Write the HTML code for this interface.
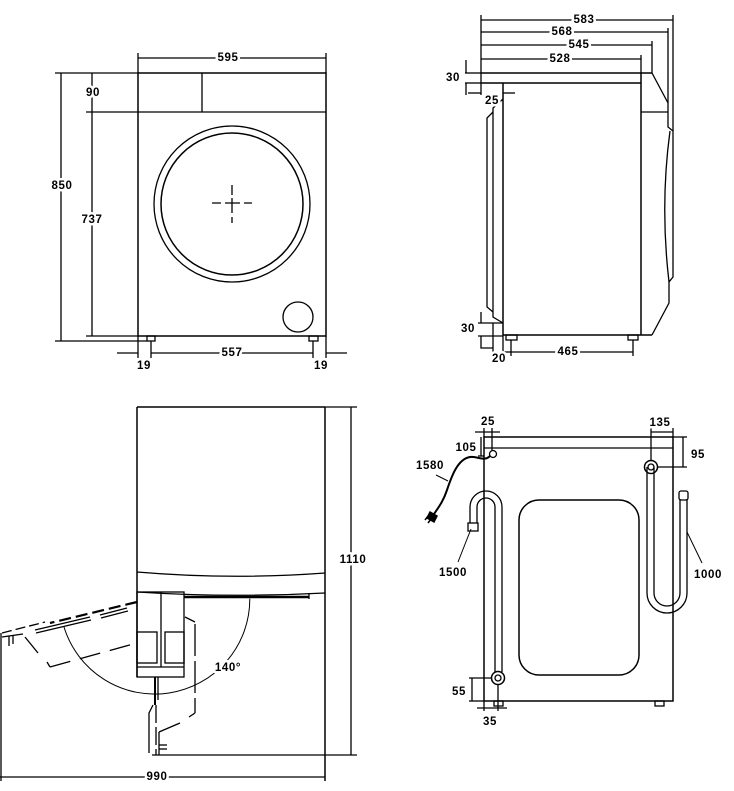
<!DOCTYPE html>
<html><head><meta charset="utf-8"><style>
html,body{margin:0;padding:0;background:#fff;}
svg{display:block;}
text{font-family:"Liberation Sans",sans-serif;font-weight:bold;font-size:11.5px;letter-spacing:0.6px;fill:#000;stroke:#fff;stroke-width:5px;paint-order:stroke;stroke-linejoin:round;}
</style></head><body>
<svg width="734" height="791" viewBox="0 0 734 791" xmlns="http://www.w3.org/2000/svg">
<g stroke="#000" stroke-width="1.3" fill="none">
<!-- FRONT VIEW -->
<line x1="138" y1="58" x2="326" y2="58"/>
<line x1="138" y1="53" x2="138" y2="73"/>
<line x1="326" y1="53" x2="326" y2="73"/>
<rect x="138" y="73" width="188" height="263" stroke-width="1.5"/>
<line x1="138" y1="112" x2="326" y2="112"/>
<line x1="202" y1="73" x2="202" y2="112"/>
<circle cx="232" cy="204" r="78"/>
<circle cx="232" cy="204" r="71" stroke-width="1.5"/>
<path d="M212,203h9 M225,203h15 M244,203h8 M232,185v10 M232,198v15 M232,217v6"/>
<circle cx="298" cy="317" r="15"/>
<rect x="147" y="336" width="8" height="5"/>
<rect x="309" y="336" width="9" height="5"/>
<line x1="61" y1="73" x2="61" y2="341"/>
<line x1="55" y1="73" x2="138" y2="73"/>
<line x1="55" y1="341" x2="147" y2="341"/>
<line x1="92" y1="73" x2="92" y2="336"/>
<line x1="86" y1="112" x2="138" y2="112"/>
<line x1="86" y1="336" x2="138" y2="336"/>
<line x1="138" y1="336" x2="138" y2="358"/>
<line x1="151" y1="341" x2="151" y2="358"/>
<line x1="313" y1="341" x2="313" y2="358"/>
<line x1="326" y1="336" x2="326" y2="358"/>
<line x1="117" y1="353" x2="138" y2="353"/>
<line x1="151" y1="353" x2="313" y2="353"/>
<line x1="326" y1="353" x2="347" y2="353"/>

<!-- SIDE VIEW -->
<line x1="481" y1="20" x2="673" y2="20"/>
<line x1="481" y1="32" x2="668" y2="32"/>
<line x1="481" y1="45" x2="652" y2="45"/>
<line x1="481" y1="59" x2="641" y2="59"/>
<line x1="481" y1="15" x2="481" y2="83"/>
<line x1="673" y1="15" x2="673" y2="131"/>
<line x1="668" y1="28" x2="668" y2="103"/>
<line x1="652" y1="41" x2="652" y2="73"/>
<line x1="641" y1="55" x2="641" y2="73"/>
<line x1="481" y1="73" x2="652" y2="73" stroke-width="1.5"/>
<line x1="481" y1="83" x2="641" y2="83" stroke-width="1.5"/>
<line x1="503" y1="83" x2="503" y2="335" stroke-width="1.5"/>
<line x1="641" y1="73" x2="641" y2="335" stroke-width="1.5"/>
<line x1="503" y1="335" x2="652" y2="335" stroke-width="1.5"/>
<polyline points="652,73 668,103 668,127 673,131 673,277 669,282 669,303 652,335"/>
<line x1="641" y1="112" x2="668" y2="112"/>
<path d="M670,131 Q660,205 669,282"/>
<polyline points="503,99 493,108 493,317 503,323"/>
<polyline points="493,112 487,118 487,307 493,312"/>
<rect x="506" y="335" width="11" height="5"/>
<rect x="628" y="335" width="10" height="5"/>
<line x1="465" y1="73" x2="481" y2="73"/>
<line x1="465" y1="83" x2="481" y2="83"/>
<line x1="466" y1="60" x2="466" y2="73"/>
<line x1="466" y1="83" x2="466" y2="95"/>
<line x1="468" y1="93" x2="481" y2="93"/>
<line x1="481" y1="83" x2="481" y2="95"/>
<line x1="503" y1="93" x2="515" y2="93"/>
<line x1="478" y1="323" x2="503" y2="323"/>
<line x1="478" y1="336" x2="503" y2="336"/>
<line x1="481" y1="312" x2="481" y2="323"/>
<polyline points="481,336 481,348 493,348"/>
<line x1="493" y1="323" x2="493" y2="352"/>
<line x1="503" y1="335" x2="503" y2="358"/>
<line x1="503" y1="352" x2="511" y2="352"/>
<line x1="511" y1="352" x2="633" y2="352"/>
<line x1="511" y1="340" x2="511" y2="356"/>
<line x1="633" y1="340" x2="633" y2="356"/>

<!-- TOP VIEW -->
<line x1="137" y1="407" x2="325" y2="407" stroke-width="1.5"/>
<line x1="137" y1="407" x2="137" y2="677" stroke-width="1.5"/>
<line x1="325" y1="407" x2="325" y2="781" stroke-width="1.5"/>
<path d="M137,572 Q231,580 325,573"/>
<path d="M137,592 Q231,598 325,593"/>
<line x1="184" y1="597" x2="309" y2="597" stroke-width="2.5"/>
<line x1="309" y1="593" x2="309" y2="599"/>
<rect x="137" y="592" width="47" height="85"/>
<line x1="161" y1="592" x2="161" y2="667"/>
<rect x="137" y="632" width="20" height="31"/>
<rect x="165" y="632" width="19" height="31"/>
<line x1="137" y1="667" x2="184" y2="667"/>
<path d="M249.8,598.6 A95,95 0 0 1 64,627" stroke-width="1"/>
<line x1="351" y1="407" x2="351" y2="755"/>
<line x1="325" y1="407" x2="357" y2="407"/>
<line x1="152" y1="755" x2="357" y2="755"/>
<line x1="0" y1="777" x2="325" y2="777"/>
<line x1="1" y1="633" x2="1" y2="781"/>
<!-- 140 deg door -->
<line x1="137" y1="602" x2="50" y2="623" stroke-width="2.2" stroke-dasharray="12 5"/>
<line x1="35" y1="630" x2="90" y2="617"/>
<line x1="36" y1="633" x2="91" y2="620"/>
<line x1="100" y1="615" x2="127" y2="608"/>
<line x1="101" y1="618" x2="128" y2="611"/>
<polyline points="2,633 45,622" stroke-dasharray="10 4"/>
<line x1="2" y1="637" x2="23" y2="634"/>
<line x1="9" y1="636" x2="9" y2="646"/>
<line x1="13" y1="636" x2="13" y2="644"/>
<line x1="25" y1="637" x2="38" y2="653"/>
<line x1="47" y1="662" x2="50" y2="667"/>
<line x1="50" y1="667" x2="137" y2="643" stroke-dasharray="21 10"/>
<!-- 90 deg door -->
<line x1="185" y1="617" x2="195" y2="622"/>
<line x1="195" y1="624" x2="195" y2="713" stroke-dasharray="32 5"/>
<line x1="195" y1="713" x2="189" y2="717"/>
<line x1="180" y1="723" x2="159" y2="732"/>
<line x1="155" y1="677" x2="155" y2="705" stroke-width="2"/>
<line x1="158" y1="677" x2="158" y2="700"/>
<polyline points="153,705 149,713 149,753"/>
<line x1="156" y1="705" x2="156" y2="755" stroke-dasharray="18 4"/>
<line x1="159" y1="732" x2="159" y2="755"/>
<line x1="159" y1="745" x2="167" y2="745"/>
<line x1="159" y1="749" x2="167" y2="749"/>

<!-- BACK VIEW -->
<rect x="484" y="437" width="189" height="264" stroke-width="1.5"/>
<line x1="484" y1="448" x2="673" y2="448"/>
<rect x="519" y="500" width="120" height="175" rx="20" ry="20" stroke-width="1.5"/>
<rect x="494" y="701" width="9" height="5"/>
<rect x="655" y="701" width="9" height="5"/>
<line x1="475" y1="432" x2="500" y2="432"/>
<line x1="484" y1="428" x2="484" y2="437"/>
<line x1="492" y1="428" x2="492" y2="450"/>
<line x1="481" y1="437" x2="481" y2="456"/>
<line x1="478" y1="456" x2="484" y2="456"/>
<circle cx="493" cy="454" r="3.5"/>
<path d="M490,456 C484,462 478,456 470,457 C458,459 452,475 447,490 C443,502 438,508 434,514" stroke-width="2"/>
<path d="M430,512 l7,4 l-3,6 l-7,-4 z M428,516 l-3,4 M431,519 l-3,4" fill="#000" stroke-width="1.5"/>
<line x1="436" y1="475" x2="448" y2="481" stroke-width="1"/>
<path d="M470,523 L470,507 A16,16 0 0 1 502,507 L502,672"/>
<path d="M477,523 L477,507 A9,9 0 0 1 495,507 L495,672"/>
<rect x="468" y="523" width="10" height="8"/>
<circle cx="498" cy="678" r="6.5" stroke-width="1.5"/>
<circle cx="498" cy="678" r="3"/>
<line x1="458" y1="562" x2="471" y2="529" stroke-width="1"/>
<path d="M647,467 L647,593 A20,20 0 0 0 687,593 L687,499"/>
<path d="M654,467 L654,593 A13,13 0 0 0 680,593 L680,499"/>
<circle cx="651" cy="467" r="6.5" stroke-width="1.5"/>
<circle cx="651" cy="467" r="3"/>
<rect x="679" y="491" width="9" height="9" rx="2"/>
<line x1="651" y1="432" x2="673" y2="432"/>
<line x1="651" y1="428" x2="651" y2="461"/>
<line x1="673" y1="428" x2="673" y2="437"/>
<line x1="683" y1="437" x2="683" y2="467"/>
<line x1="673" y1="437" x2="687" y2="437"/>
<line x1="657" y1="467" x2="687" y2="467"/>
<line x1="687" y1="532" x2="702" y2="563" stroke-width="1"/>
<line x1="472" y1="678" x2="472" y2="701"/>
<line x1="469" y1="678" x2="492" y2="678"/>
<line x1="469" y1="701" x2="484" y2="701"/>
<line x1="477" y1="708" x2="507" y2="708"/>
<line x1="484" y1="701" x2="484" y2="711"/>
<line x1="498" y1="685" x2="498" y2="711"/>
</g>

<g text-anchor="middle" dominant-baseline="central">
<text x="228" y="58">595</text>
<text x="62" y="186">850</text>
<text x="93" y="93">90</text>
<text x="92" y="220">737</text>
<text x="232" y="353">557</text>
<text x="144" y="366">19</text>
<text x="321" y="366">19</text>

<text x="584" y="20">583</text>
<text x="562" y="32">568</text>
<text x="579" y="45">545</text>
<text x="560" y="59">528</text>
<text x="453" y="78">30</text>
<text x="492" y="101">25</text>
<text x="468" y="329">30</text>
<text x="499" y="359">20</text>
<text x="568" y="352">465</text>

<text x="353" y="560">1110</text>
<text x="157" y="777">990</text>
<text x="228" y="668">140°</text>

<text x="488" y="422">25</text>
<text x="466" y="448">105</text>
<text x="430" y="466">1580</text>
<text x="453" y="573">1500</text>
<text x="660" y="423">135</text>
<text x="698" y="455">95</text>
<text x="708" y="575">1000</text>
<text x="459" y="692">55</text>
<text x="490" y="722">35</text>
</g>
</svg>
</body></html>
